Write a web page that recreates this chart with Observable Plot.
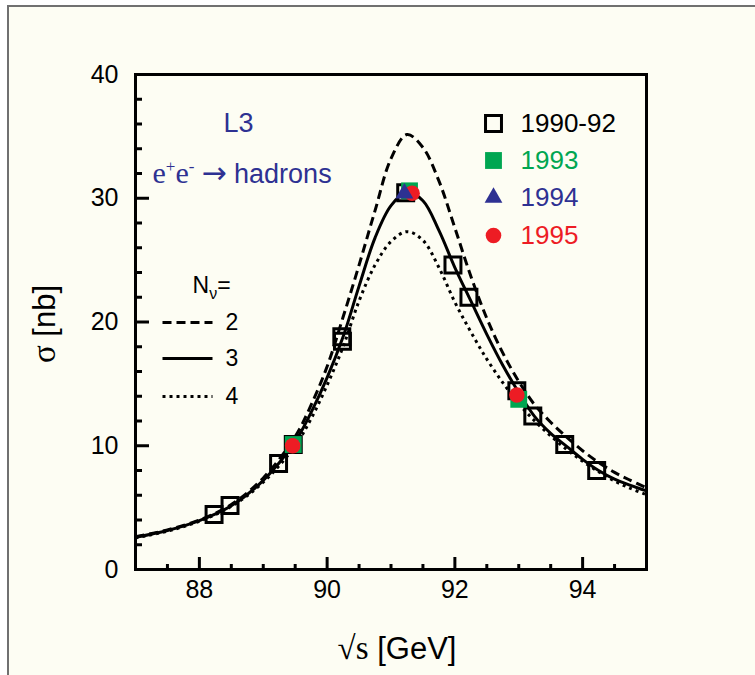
<!DOCTYPE html>
<html><head><meta charset="utf-8">
<script src="https://cdn.jsdelivr.net/npm/d3@7"></script>
<script src="https://cdn.jsdelivr.net/npm/@observablehq/plot@0.6"></script>
<style>
html,body{margin:0;padding:0;background:#fff;}
#wrap{position:relative;width:755px;height:675px;overflow:hidden;}
#bg{position:absolute;left:7px;top:5px;width:760px;height:700px;background:#fdfdf3;border:2px solid #707070;}
#chart{position:absolute;left:0;top:0;}
</style></head><body>
<div id="wrap"><div id="bg"></div><div id="chart"></div></div>
<script>
// ---- Data ----
// Theory curves (sigma in nb vs sqrt(s) in GeV) for N_nu = 2, 3, 4
const curveEnergy = [87.0, 87.5, 88.0, 88.5, 89.0, 89.5, 89.75, 90.0, 90.25, 90.5, 90.75, 91.0, 91.25, 91.5, 91.75, 92.0, 92.25, 92.5, 92.75, 93.0, 93.25, 93.5, 93.75, 94.0, 94.25, 94.5, 94.75, 95.0];
const sigmaNnu2 = [2.65, 3.2, 4.0, 5.25, 7.4, 10.75, 13.3, 16.4, 20.4, 24.6, 29.0, 33.2, 35.15, 34.1, 31.4, 27.6, 23.7, 20.3, 17.5, 15.2, 13.3, 11.9, 10.7, 9.6, 8.65, 7.85, 7.2, 6.6];
const sigmaNnu3 = [2.6, 3.15, 3.95, 5.15, 7.2, 10.35, 12.7, 15.5, 18.8, 22.9, 26.8, 29.4, 30.5, 29.8, 27.4, 24.4, 21.7, 19.0, 16.5, 14.3, 12.35, 11.0, 9.95, 8.9, 8.0, 7.3, 6.8, 6.35];
const sigmaNnu4 = [2.55, 3.1, 3.9, 5.1, 7.05, 10.0, 12.2, 14.9, 18.0, 21.7, 24.6, 26.5, 27.3, 26.6, 24.4, 21.6, 19.2, 17.0, 15.1, 13.4, 12.0, 10.8, 9.7, 8.75, 7.9, 7.15, 6.55, 6.05];

// Measurements
const energy9092 = [88.23, 88.48, 89.24, 89.47, 90.23, 90.24, 91.23, 91.97, 92.22, 92.97, 93.22, 93.72, 94.22];
const sigma9092  = [4.44, 5.17, 8.57, 10.1, 18.8, 18.45, 30.45, 24.6, 22.0, 14.45, 12.4, 10.1, 8.0];
const energy1993 = [89.47, 91.29, 93.0];
const sigma1993  = [10.1, 30.6, 13.75];
const energy1994 = [91.21];
const sigma1994  = [30.4];
const energy1995 = [89.46, 91.33, 92.97];
const sigma1995  = [10.0, 30.4, 14.1];

// Axis ticks
const xMajorTicks = [88, 90, 92, 94];
const xMinorTicks = [87.5, 88.5, 89, 89.5, 90.5, 91, 91.5, 92.5, 93, 93.5, 94.5];
const yMajorTicks = [0, 10, 20, 30, 40];
const yMinorTicks = [2, 4, 6, 8, 12, 14, 16, 18, 22, 24, 26, 28, 32, 34, 36, 38];

// Legend text
const periodLabels = ["1990-92", "1993", "1994", "1995"];
const nnuLabels = ["2", "3", "4"];

// ---- Build ----
const BLUE = "#2e3192", GREEN = "#00a651", RED = "#ed1c24";
const SANS = "Liberation Sans, Arial, Helvetica, sans-serif";
const SERIF = "Liberation Serif, Times New Roman, serif";

const W = 755, H = 675, ML = 135, MR = 109, MT = 74, MB = 106;
const frameW = W - ML - MR, frameH = H - MT - MB;

const toRows = (xs, ys) => xs.map((x, i) => ({x, y: ys[i]}));
const c2 = toRows(curveEnergy, sigmaNnu2);
const c3 = toRows(curveEnergy, sigmaNnu3);
const c4 = toRows(curveEnergy, sigmaNnu4);
const d9092 = toRows(energy9092, sigma9092);
const d1993 = toRows(energy1993, sigma1993);
const d1994 = toRows(energy1994, sigma1994);
const d1995 = toRows(energy1995, sigma1995);

const dashes = ["9,5", null, "3,4"];
const hLine = {draw(context, l) { context.moveTo(0, 0); context.lineTo(l, 0); }};

const lineStyle = {x: "x", y: "y", stroke: "black", strokeWidth: 3, strokeLinecap: "butt", curve: "catmull-rom"};
const tickStyle = {stroke: "black", strokeWidth: 3, strokeLinecap: "butt"};

const legendMarks = [];
const rowDy = [49, 86, 123, 161];
const legendSymbols = [
  {symbol: "square", r: 9, fill: "none", stroke: "black", strokeWidth: 3},
  {symbol: "square", r: 9.5, fill: GREEN, stroke: "none"},
  {symbol: "triangle", r: 6.6, fill: BLUE, stroke: "none"},
  {symbol: "circle", r: 7.8, fill: RED, stroke: "none"}
];
const legendColors = ["black", GREEN, BLUE, RED];
periodLabels.forEach((lab, i) => {
  legendMarks.push(Plot.dot([lab], {frameAnchor: "top-left", dx: 358, dy: rowDy[i], ...legendSymbols[i]}));
  legendMarks.push(Plot.text([lab], {frameAnchor: "top-left", dx: 385, dy: rowDy[i], text: d => d, textAnchor: "start", lineAnchor: "middle", fontSize: 26, fill: legendColors[i]}));
});
const nnuDy = [248, 284, 322];
nnuLabels.forEach((lab, i) => {
  legendMarks.push(Plot.vector([lab], {frameAnchor: "top-left", dx: 27, dy: nnuDy[i], length: 50, rotate: 0, anchor: "start", shape: hLine, fill: "none", ...tickStyle, strokeDasharray: dashes[i]}));
  legendMarks.push(Plot.text([lab], {frameAnchor: "top-left", dx: 90, dy: nnuDy[i], text: d => d, textAnchor: "start", lineAnchor: "middle", fontSize: 23, fill: "black"}));
});

const svg = Plot.plot({
  width: W, height: H,
  marginLeft: ML, marginRight: MR, marginTop: MT, marginBottom: MB,
  style: {background: "transparent", fontFamily: SANS, color: "black", overflow: "visible"},
  x: {domain: [87, 95], label: null, axis: null},
  y: {domain: [0, 40], label: null, axis: null},
  marks: [
    Plot.line(c2, {...lineStyle, strokeDasharray: dashes[0]}),
    Plot.line(c3, {...lineStyle}),
    Plot.line(c4, {...lineStyle, strokeDasharray: dashes[2]}),
    Plot.dot(d9092, {x: "x", y: "y", symbol: "square", r: 9, fill: "none", stroke: "black", strokeWidth: 3}),
    Plot.dot(d1993, {x: "x", y: "y", symbol: "square", r: 9.5, fill: GREEN, stroke: "none"}),
    Plot.dot(d1995, {x: "x", y: "y", symbol: "circle", r: 7.8, fill: RED, stroke: "none"}),
    Plot.dot(d1994, {x: "x", y: "y", symbol: "triangle", r: 6.6, fill: BLUE, stroke: "none"}),
    Plot.frame({stroke: "black", strokeWidth: 3}),
    // inward ticks (rules inset to the tick length)
    Plot.ruleX(xMajorTicks, {x: d => d, insetTop: frameH - 12, ...tickStyle}),
    Plot.ruleX(xMinorTicks, {x: d => d, insetTop: frameH - 5, ...tickStyle}),
    Plot.ruleY(yMajorTicks, {y: d => d, insetRight: frameW - 14, ...tickStyle}),
    Plot.ruleY(yMinorTicks, {y: d => d, insetRight: frameW - 7, ...tickStyle}),
    Plot.axisX(xMajorTicks, {tickSize: 0, tickPadding: 11, fontSize: 25, fill: "black", label: null}),
    Plot.axisY(yMajorTicks, {tickSize: 0, tickPadding: 17, fontSize: 25, fill: "black", label: null}),
    Plot.text(["L3"], {frameAnchor: "top-left", dx: 103, dy: 49, text: d => d, textAnchor: "middle", lineAnchor: "middle", fontSize: 27, fill: BLUE}),
    Plot.text(["e+e- → hadrons"], {frameAnchor: "top-left", dx: 17, dy: 108, text: d => d, textAnchor: "start", lineAnchor: "bottom", fontSize: 27, fill: BLUE}),
    Plot.text(["Nν="], {frameAnchor: "top-left", dx: 57, dy: 218, text: d => d, textAnchor: "start", lineAnchor: "bottom", fontSize: 23, fill: "black"}),
    Plot.text(["√s [GeV]"], {frameAnchor: "bottom", dx: 6, dy: 89, text: d => d, textAnchor: "middle", lineAnchor: "bottom", fontSize: 31, fill: "black"}),
    Plot.text(["σ [nb]"], {frameAnchor: "left", dx: -90, dy: 2, rotate: -90, text: d => d, textAnchor: "middle", lineAnchor: "middle", fontSize: 31, fill: "black"}),
    ...legendMarks
  ]
});
document.getElementById("chart").append(svg);

function richText(root, content, parts) {
  d3.select(root).selectAll("text").filter(function () { return this.textContent === content; })
    .each(function () {
      const t = d3.select(this);
      t.text(null);
      for (const p of parts) {
        const s = t.append("tspan").text(p.text);
        if (p.family) s.attr("font-family", p.family);
        if (p.size) s.attr("font-size", p.size);
        if (p.dy) s.attr("dy", p.dy);
      }
    });
}
richText(svg, "e+e- → hadrons", [
  {text: "e", family: SERIF, size: 30},
  {text: "+", family: SERIF, size: 17, dy: -11},
  {text: "e", family: SERIF, size: 30, dy: 11},
  {text: "-", family: SERIF, size: 17, dy: -11},
  {text: " ", family: SERIF, size: 28, dy: 11},
  {text: "→", family: "DejaVu Sans, sans-serif", size: 30},
  {text: " hadrons", size: 27}
]);
richText(svg, "√s [GeV]", [
  {text: "√s", family: SERIF, size: 33},
  {text: " [GeV]", size: 31}
]);
richText(svg, "σ [nb]", [
  {text: "σ", family: SERIF, size: 33},
  {text: " [nb]", size: 31}
]);
richText(svg, "Nν=", [
  {text: "N", size: 23},
  {text: "ν", size: 16, dy: 6},
  {text: "=", size: 23, dy: -6}
]);
</script></body></html>
